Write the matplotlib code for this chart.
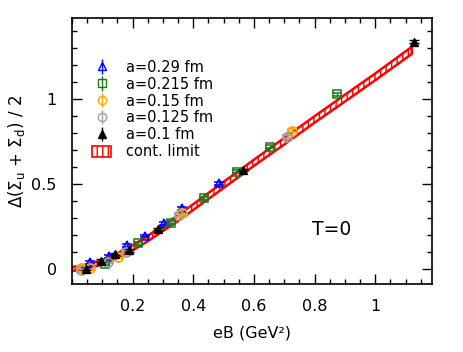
import numpy as np
import matplotlib
matplotlib.use("Agg")
import matplotlib.pyplot as plt
from matplotlib.ticker import MultipleLocator, FixedLocator, FuncFormatter
from matplotlib.patches import Patch

plt.rcParams['font.family'] = ['DejaVu Sans']
plt.rcParams['mathtext.default'] = 'regular'
plt.rcParams['hatch.linewidth'] = 1.0

# ---- data ----
x029 = [0.0605, 0.121, 0.1815, 0.242, 0.3025, 0.363, 0.484]
y029 = [0.040, 0.075, 0.140, 0.194, 0.269, 0.357, 0.504]
e029 = [0.008, 0.008, 0.008, 0.008, 0.008, 0.008, 0.008]

x0215 = [0.109, 0.218, 0.327, 0.436, 0.545, 0.654, 0.872]
y0215 = [0.030, 0.151, 0.272, 0.416, 0.572, 0.720, 1.027]
e0215 = [0.008, 0.008, 0.008, 0.008, 0.008, 0.008, 0.008]

x015 = [0.0302, 0.0604, 0.151, 0.362, 0.725]
y015 = [0.008, 0.004, 0.073, 0.329, 0.813]
e015 = [0.010, 0.010, 0.010, 0.010, 0.010]

x0125 = [0.0295, 0.118, 0.177, 0.354, 0.708]
y0125 = [-0.006, 0.043, 0.102, 0.318, 0.778]
e0125 = [0.010, 0.010, 0.010, 0.010, 0.010]

x01 = [0.047, 0.094, 0.141, 0.188, 0.282, 0.564, 1.128]
y01 = [0.002, 0.050, 0.088, 0.110, 0.235, 0.582, 1.337]
e01 = [0.008, 0.008, 0.008, 0.008, 0.008, 0.008, 0.008]

xband = [0.0, 0.05, 0.1, 0.15, 0.2, 0.25, 0.3, 0.35, 0.4, 0.5, 0.6, 0.7, 0.8, 0.9, 1.0, 1.12]
yband = [0.0, 0.015, 0.040, 0.080, 0.125, 0.180, 0.240, 0.300, 0.365, 0.495, 0.625, 0.752, 0.880, 1.005, 1.130, 1.285]
wband = [0.012, 0.012, 0.013, 0.014, 0.015, 0.016, 0.016, 0.017, 0.017, 0.018, 0.018, 0.019, 0.019, 0.020, 0.020, 0.021]

fig = plt.figure(figsize=(4.63, 3.52), dpi=100)
ax = fig.add_axes([0.1555, 0.193, 0.777, 0.756])

xb = np.array(xband); yb = np.array(yband); wb = np.array(wband)
ax.fill_between(xb, yb - wb, yb + wb, facecolor='white', edgecolor='red',
                hatch='|||', linewidth=1.8, zorder=2)

ms = 6
common = dict(capsize=3.5, elinewidth=1.0, capthick=1.0, linestyle='none', zorder=3)
ax.errorbar(x029, y029, yerr=e029, marker='^', ms=ms, mfc='none', mec='#0000ff', color='#0000ff', mew=1.1, **common)
ax.errorbar(x0215, y0215, yerr=e0215, marker='s', ms=ms - 0.5, mfc='none', mec='#1a7a1a', color='#1a7a1a', mew=1.1, **common)
ax.errorbar(x015, y015, yerr=e015, marker='o', ms=ms + 0.5, mfc='none', mec='#ffa500', color='#ffa500', mew=1.3, **common)
ax.errorbar(x0125, y0125, yerr=e0125, marker='o', ms=ms + 0.5, mfc='none', mec='#a0a0a0', color='#a0a0a0', mew=1.3, **common)
ax.errorbar(x01, y01, yerr=e01, marker='^', ms=ms, mfc='black', mec='black', color='black', mew=1.0, **common)

ax.set_xlim(0.0, 1.186)
ax.set_ylim(-0.088, 1.476)

ax.xaxis.set_major_locator(FixedLocator([0.2, 0.4, 0.6, 0.8, 1.0]))
ax.xaxis.set_minor_locator(MultipleLocator(0.05))
ax.yaxis.set_major_locator(FixedLocator([0.0, 0.5, 1.0]))
ax.yaxis.set_minor_locator(MultipleLocator(0.1))
fmt = FuncFormatter(lambda v, p: ('%g' % round(v, 3)))
ax.xaxis.set_major_formatter(fmt)
ax.yaxis.set_major_formatter(fmt)
ax.tick_params(which='both', direction='in', top=True, right=True, labelsize=11.5, width=1.0)
ax.tick_params(which='major', length=7)
ax.tick_params(which='minor', length=3.5)
ax.tick_params(axis='x', which='major', pad=11)
ax.tick_params(axis='y', which='major', pad=11)
for s in ax.spines.values():
    s.set_linewidth(1.2)

ax.set_xlabel('eB (GeV²)', fontsize=11.5, labelpad=8)
ax.set_ylabel('Δ(Σ$_u$ + Σ$_d$) / 2', fontsize=12, labelpad=3)

ax.text(0.855, 0.235, 'T=0', fontsize=13.5, ha='center', va='center')

h = []
h.append(ax.errorbar([], [], yerr=[], marker='^', ms=ms, mfc='none', mec='#0000ff', color='#0000ff', **common))
h.append(ax.errorbar([], [], yerr=[], marker='s', ms=ms - 0.5, mfc='none', mec='#1a7a1a', color='#1a7a1a', **common))
h.append(ax.errorbar([], [], yerr=[], marker='o', ms=ms, mfc='none', mec='#ffa500', color='#ffa500', **common))
h.append(ax.errorbar([], [], yerr=[], marker='o', ms=ms, mfc='none', mec='#a0a0a0', color='#a0a0a0', **common))
h.append(ax.errorbar([], [], yerr=[], marker='^', ms=ms, mfc='black', mec='black', color='black', **common))
h.append(Patch(facecolor='white', edgecolor='red', hatch='|||', linewidth=1.2))
labels = ['a=0.29 fm', 'a=0.215 fm', 'a=0.15 fm', 'a=0.125 fm', 'a=0.1 fm', 'cont. limit']
ax.legend(h, labels, loc='upper left', bbox_to_anchor=(0.04, 0.865), frameon=False,
          fontsize=10.5, handlelength=1.3, handletextpad=1.0, labelspacing=0.13,
          borderaxespad=0, handleheight=0.8)

fig.savefig('out.png', dpi=100)
